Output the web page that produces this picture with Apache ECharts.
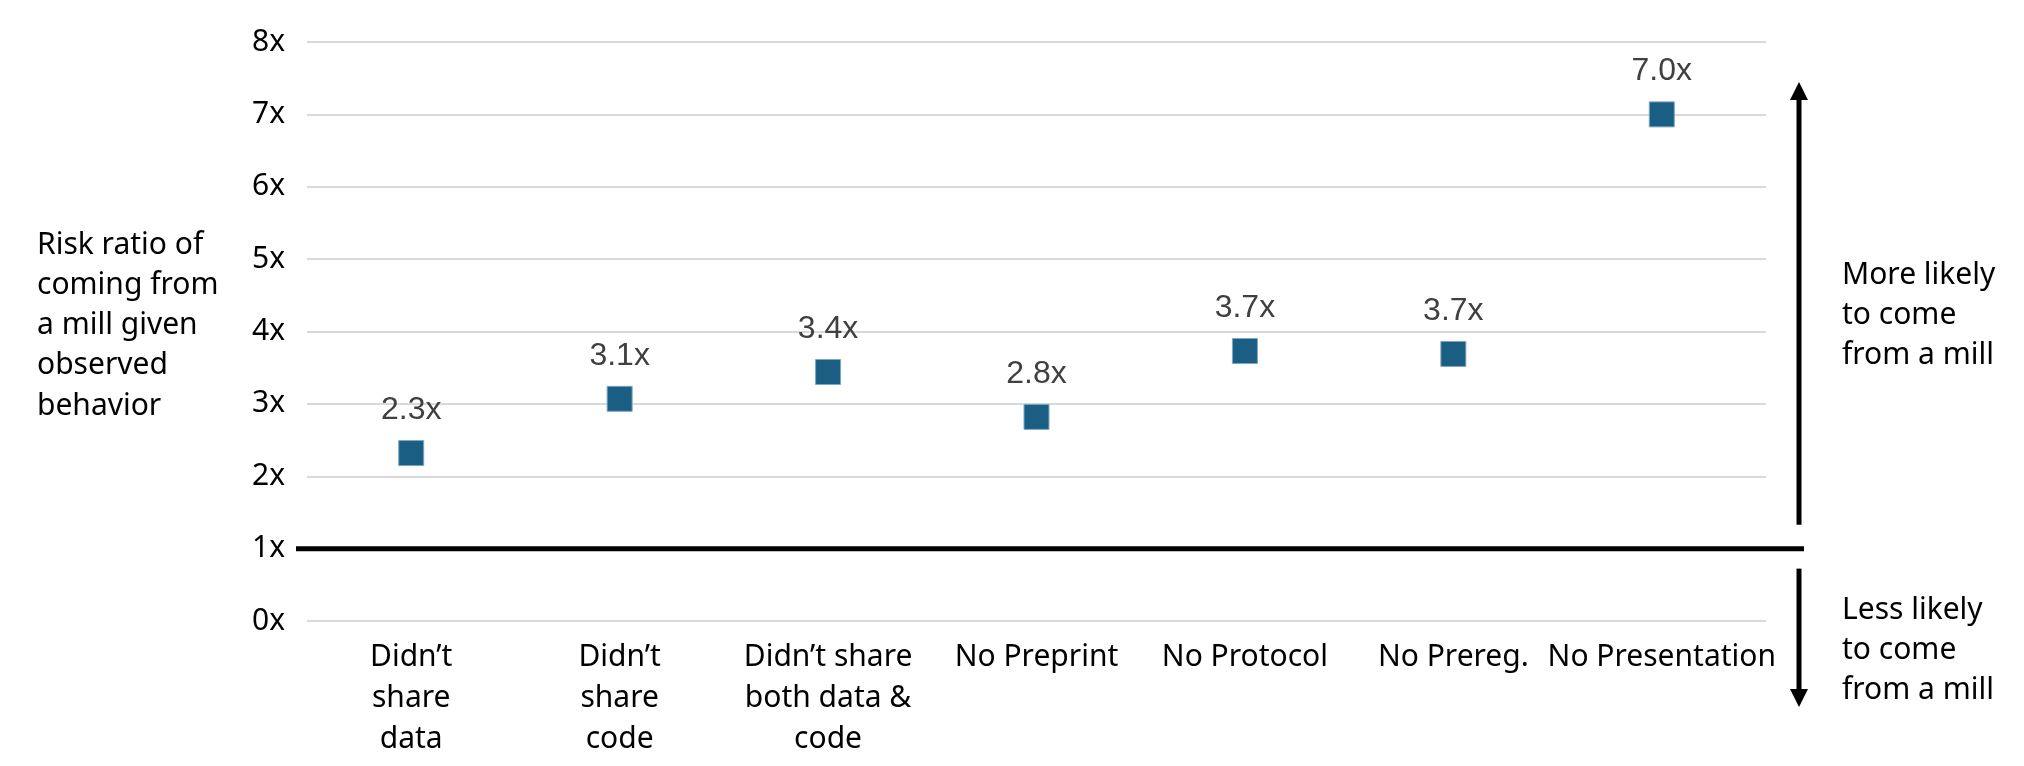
<!DOCTYPE html>
<html><head><meta charset="utf-8">
<script src="https://cdn.jsdelivr.net/npm/echarts@6/dist/echarts.min.js"></script>
<style>html,body{margin:0;padding:0;background:#fff}#c{width:2024px;height:766px}</style>
</head><body><div id="c"></div>
<script>
// ---- data ----
const categories = [
  "Didn’t\nshare\ndata",
  "Didn’t\nshare\ncode",
  "Didn’t share\nboth data &\ncode",
  "No Preprint",
  "No Protocol",
  "No Prereg.",
  "No Presentation"
];
const riskRatios = [2.32, 3.07, 3.44, 2.82, 3.73, 3.69, 7.0];
const yTickLabels = ["0x", "1x", "2x", "3x", "4x", "5x", "6x", "7x", "8x"];
const yAxisTitle = "Risk ratio of\ncoming from\na mill given\nobserved\nbehavior";
const moreText = "More likely\nto come\nfrom a mill";
const lessText = "Less likely\nto come\nfrom a mill";
const baselineValue = 1;

const FONT = "'Noto Sans'";
const chart = echarts.init(document.getElementById('c'), null, {renderer: 'canvas'});

chart.setOption({
  animation: false,
  backgroundColor: '#fff',
  grid: {left: 307, right: 258, top: 42, bottom: 145, containLabel: false, outerBoundsMode: 'none'},
  xAxis: {
    type: 'category',
    data: categories,
    axisLine: {show: false},
    axisTick: {show: false},
    splitLine: {show: false},
    axisLabel: {
      interval: 0,
      margin: 16,
      verticalAlign: 'top',
      fontFamily: FONT, fontSize: 30, lineHeight: 41, color: '#000'
    }
  },
  yAxis: {
    type: 'value',
    min: 0, max: 8, interval: 1,
    axisLine: {show: false},
    axisTick: {show: false},
    axisLabel: {
      margin: 22,
      fontFamily: FONT, fontSize: 30, color: '#000',
      formatter: v => yTickLabels[v]
    },
    splitLine: {lineStyle: {color: '#d9d9d9', width: 2}}
  },
  series: [{
    type: 'scatter',
    data: riskRatios,
    symbol: 'rect',
    symbolSize: 25,
    itemStyle: {color: '#1a5f83', borderColor: '#7ea6c2', borderWidth: 1, opacity: 1},
    label: {
      show: true, position: 'top', distance: 14,
      fontFamily: "'Liberation Sans'", fontSize: 32, color: '#404040',
      formatter: p => p.value.toFixed(1) + 'x'
    },
    emphasis: {disabled: true}
  }]
});

// reference line at 1x, axis title and annotation arrows
const yBase = chart.convertToPixel({yAxisIndex: 0}, baselineValue);
const ax = 1799;
function arrow(yFrom, yTip) {
  const dir = yTip < yFrom ? -1 : 1;
  const headLen = 18, half = 9;
  return {
    type: 'group',
    children: [
      {type: 'line', shape: {x1: ax, y1: yFrom, x2: ax, y2: yTip - dir * headLen + dir * 1},
       style: {stroke: '#000', lineWidth: 5}},
      {type: 'polygon', shape: {points: [[ax, yTip], [ax - half, yTip - dir * headLen], [ax + half, yTip - dir * headLen]]},
       style: {fill: '#000'}}
    ]
  };
}
chart.setOption({
  graphic: [
    {type: 'line', shape: {x1: 296, y1: yBase, x2: 1804, y2: yBase}, style: {stroke: '#000', lineWidth: 5}, z: 10},
    arrow(yBase - 24, 82),
    arrow(yBase + 20, 707),
    {type: 'text', left: 37, top: 225,
     style: {text: yAxisTitle, fontFamily: FONT, fontSize: 30, lineHeight: 40.25, fill: '#000'}},
    {type: 'text', left: 1842, top: 255,
     style: {text: moreText, fontFamily: FONT, fontSize: 30, lineHeight: 40, fill: '#000'}},
    {type: 'text', left: 1842, top: 590,
     style: {text: lessText, fontFamily: FONT, fontSize: 30, lineHeight: 40, fill: '#000'}}
  ]
});
</script>
</body></html>
